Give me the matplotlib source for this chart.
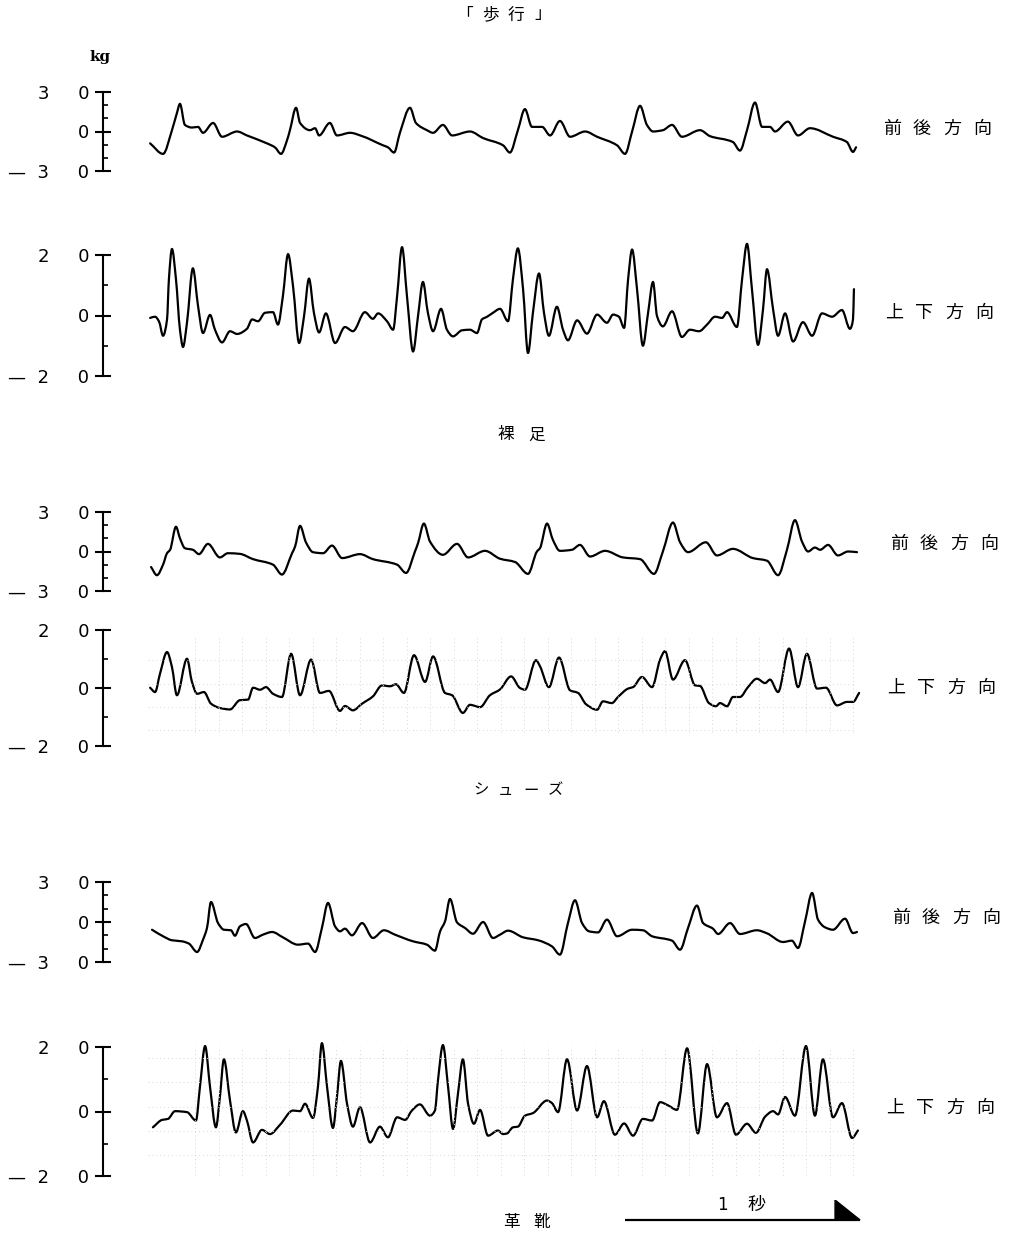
import numpy as np
import matplotlib
matplotlib.use("Agg")
import matplotlib.pyplot as plt
from matplotlib.ticker import FixedLocator, FixedFormatter
from matplotlib.patches import Polygon, PathPatch
from matplotlib.path import Path

plt.rcParams['font.family'] = ['DejaVu Sans', 'Noto Sans CJK JP']

# ---------------- data (time in s, force in kg) ----------------
walk_ap_t = [0.009, 0.064, 0.102, 0.123, 0.136, 0.157, 0.187, 0.213, 0.234, 0.277,
             0.315, 0.379, 0.421, 0.506, 0.540, 0.566, 0.591, 0.604, 0.630, 0.647,
             0.689, 0.711, 0.728, 0.774, 0.804, 0.860, 0.911, 1.000, 1.021, 1.047,
             1.072, 1.115, 1.140, 1.187, 1.213, 1.255, 1.294, 1.370, 1.426, 1.511,
             1.540, 1.574, 1.604, 1.634, 1.677, 1.711, 1.753, 1.796, 1.860, 1.911,
             1.996, 2.030, 2.060, 2.094, 2.123, 2.149, 2.191, 2.230, 2.272, 2.349,
             2.391, 2.489, 2.519, 2.549, 2.583, 2.613, 2.647, 2.668, 2.723, 2.766,
             2.817, 2.915, 2.974, 3.000, 3.013]
walk_ap_kg = [-9, -17, 1, 14, 21, 5, 3, 3.5, -1, 6.5,
              -4, 0, -3, -9, -12, -17, -7, 1, 18, 6.5,
              1, 2.5, -3, 6.5, -3, -1, -3.5, -10.5, -12, -16,
              -1, 18, 6.5, 1, -1, 5, -3, 0, -5, -10.5,
              -16, 1, 17, 3.5, 3.5, -3, 8, -4, 0, -4,
              -10.5, -17, 0, 19.5, 5, 0, 1, 5, -4, 1,
              -3.5, -8, -14.5, 1, 22, 3.5, 3.5, 0, 7.5, -3,
              2.5, -4, -8, -15.5, -12]

walk_v_t = [0.009, 0.030, 0.047, 0.064, 0.081, 0.089, 0.102, 0.119, 0.136, 0.149,
            0.166, 0.191, 0.213, 0.234, 0.264, 0.285, 0.315, 0.349, 0.379, 0.421,
            0.443, 0.468, 0.498, 0.532, 0.553, 0.574, 0.596, 0.617, 0.643, 0.664,
            0.685, 0.706, 0.728, 0.757, 0.796, 0.838, 0.872, 0.923, 0.957, 0.979,
            1.017, 1.043, 1.060, 1.081, 1.102, 1.128, 1.149, 1.170, 1.191, 1.213,
            1.247, 1.272, 1.298, 1.336, 1.370, 1.400, 1.421, 1.443, 1.468, 1.498,
            1.532, 1.553, 1.574, 1.596, 1.617, 1.638, 1.664, 1.685, 1.706, 1.740,
            1.766, 1.787, 1.826, 1.868, 1.911, 1.953, 1.979, 2.004, 2.026, 2.043,
            2.060, 2.081, 2.106, 2.128, 2.149, 2.166, 2.191, 2.230, 2.272, 2.306,
            2.345, 2.379, 2.413, 2.443, 2.464, 2.506, 2.528, 2.549, 2.570, 2.596,
            2.617, 2.634, 2.660, 2.681, 2.711, 2.745, 2.787, 2.826, 2.868, 2.911,
            2.953, 2.987, 3.000, 3.004]
walk_v_kg = [-0.8, -0.4, -2, -6.7, -1.3, 12, 22, 12, -4.7, -10.4,
             -2.3, 15.6, 3.1, -5.8, 0.2, -4.7, -8.9, -5.2, -6.1, -4.4,
             -1.3, -1.9, 0.9, 1.1, -3, 6.4, 20.3, 9.8, -9.1, -0.2,
             12.2, 0.9, -5.6, 0.7, -9.1, -3.8, -5.2, 1.1, -1.1, 0.7,
             -1.9, -4.7, 6.4, 22.6, 6.4, -11.9, -0.2, 11.1, 0.9, -5.2,
             2.2, -4.7, -6.9, -4.9, -4.7, -5.8, -1.3, -0.4, 0.9, 2.2,
             -1.9, 12, 22.2, 8.7, -12.4, 0.9, 13.9, 0.9, -6.7, 2.9,
             -4.7, -8.2, -1.6, -6, 0.3, -2.4, 0.3, -0.4, -4.1, 12,
             21.8, 8.7, -10, 0.9, 11.1, -0.2, -3.6, 1.4, -7.1, -4.7,
             -5.2, -3, -0.4, -0.8, 1.1, -3.8, 12, 23.7, 8.7, -9.7,
             2, 15.3, 2, -6.7, 0.7, -8.6, -2.2, -6.7, 0.7, -0.4,
             1.8, -4.4, -1.3, 8.7]

bare_ap_t = [0.013, 0.038, 0.064, 0.081, 0.094, 0.119, 0.136, 0.157, 0.191, 0.217,
             0.255, 0.306, 0.340, 0.391, 0.447, 0.532, 0.570, 0.613, 0.626, 0.647,
             0.672, 0.702, 0.745, 0.783, 0.826, 0.902, 0.957, 1.060, 1.098, 1.136,
             1.149, 1.174, 1.200, 1.255, 1.315, 1.362, 1.434, 1.498, 1.562, 1.617,
             1.655, 1.668, 1.698, 1.723, 1.753, 1.804, 1.838, 1.881, 1.945, 2.021,
             2.094, 2.153, 2.191, 2.234, 2.264, 2.298, 2.374, 2.421, 2.489, 2.574,
             2.634, 2.681, 2.719, 2.753, 2.783, 2.809, 2.838, 2.860, 2.894, 2.936,
             2.979, 3.017]
bare_ap_kg = [-11.8, -18, -10, -1.3, 1.3, 18.8, 10, 2.5, 1.3, -2,
              5.8, -4.5, -1.3, -1.8, -5.8, -10, -17.5, -1.3, 3.8, 19.5,
              7, -0.5, -1.3, 4.5, -5, -2, -5.8, -10, -16.3, 0,
              6.3, 21.2, 7.5, -2.5, 5.8, -4.5, 0.5, -5.5, -8, -17,
              0, 2.5, 21.2, 8.8, 0.5, 1.3, 5, -3.8, 0.5, -4.5,
              -5.8, -17, 0, 22, 7, -0.5, 7, -3, 2, -5,
              -7, -18, 1.3, 23.8, 7.5, 0, 3, 1.3, 5, -3,
              0, -0.5]

bare_v_t = [0.009, 0.030, 0.051, 0.081, 0.102, 0.123, 0.166, 0.187, 0.209, 0.238,
            0.268, 0.306, 0.349, 0.391, 0.426, 0.447, 0.477, 0.502, 0.532, 0.570,
            0.609, 0.647, 0.694, 0.732, 0.770, 0.817, 0.838, 0.872, 0.911, 0.957,
            0.996, 1.030, 1.055, 1.089, 1.132, 1.179, 1.213, 1.264, 1.294, 1.340,
            1.370, 1.413, 1.455, 1.498, 1.545, 1.583, 1.604, 1.651, 1.668, 1.706,
            1.749, 1.796, 1.830, 1.864, 1.911, 1.936, 1.974, 2.000, 2.043, 2.064,
            2.102, 2.145, 2.179, 2.200, 2.234, 2.285, 2.328, 2.349, 2.387, 2.417,
            2.434, 2.464, 2.489, 2.519, 2.553, 2.591, 2.626, 2.647, 2.681, 2.728,
            2.766, 2.804, 2.847, 2.885, 2.932, 2.974, 3.000, 3.026]
bare_v_kg = [0.1, -1.4, 4.9, 12.4, 7.2, -2.5, 10.1, 2.1, -2, -1.4,
             -5.4, -6.9, -7.4, -4.2, -4, 0.1, -0.6, 0.3, -2, -3.1,
             11.8, -2.5, 9.8, -1.7, -1, -7.9, -6.2, -7.7, -5.4, -2.9,
             0.9, 0.6, 1.3, -1.7, 11.3, 2.1, 10.9, -1.7, -2.5, -8.6,
             -5.8, -6.6, -2.5, -0.5, 4, 0, -0.6, 9.6, 7.5, 0.3,
             10.5, -0.8, -1.7, -5.6, -7.5, -4.6, -5.2, -3.1, -0.2, 0.3,
             3.8, 0.3, 9.8, 12.7, 2.9, 9.6, 0.9, 0.7, -5.2, -6.3,
             -5.2, -6.3, -3.1, -3.1, 0.3, 3.2, 1.7, 2.9, -1.4, 13.6,
             0.3, 11.8, -0.2, 0.1, -6, -4.8, -4.8, -1.7]

shoe_ap_t = [0.017, 0.064, 0.102, 0.145, 0.174, 0.209, 0.234, 0.251, 0.268, 0.298,
             0.323, 0.353, 0.370, 0.391, 0.417, 0.455, 0.489, 0.528, 0.574, 0.638,
             0.681, 0.711, 0.740, 0.766, 0.796, 0.817, 0.838, 0.868, 0.911, 0.957,
             1.004, 1.051, 1.128, 1.187, 1.221, 1.243, 1.264, 1.285, 1.315, 1.349,
             1.383, 1.426, 1.468, 1.498, 1.532, 1.596, 1.660, 1.719, 1.753, 1.787,
             1.817, 1.847, 1.877, 1.915, 1.953, 1.996, 2.060, 2.106, 2.145, 2.230,
             2.264, 2.298, 2.336, 2.362, 2.404, 2.426, 2.477, 2.519, 2.591, 2.634,
             2.702, 2.740, 2.766, 2.796, 2.826, 2.851, 2.881, 2.915, 2.966, 3.000,
             3.017]
shoe_ap_kg = [-5.8, -10.7, -13.7, -14.5, -16.2, -22.5, -13.3, -4.5, 15, -0.8,
              -5.8, -6.2, -10.3, -3.3, -1.5, -12, -9.5, -7.5, -11.5, -17,
              -16.2, -22.5, -4.5, 14.3, -3.3, -7, -5, -10, -0.8, -12,
              -6.2, -9.5, -14.5, -17, -21.5, -7, 0.5, 17.3, -0.3, -4.5,
              -8.8, 0, -12, -9.5, -6.5, -11.5, -13.7, -18.3, -24.5, -0.8,
              16.3, -0.8, -7, -7.8, 1.8, -10.7, -5.8, -6.2, -10.7, -14,
              -20.8, -4.5, 12.3, -0.8, -5, -9, -0.8, -9, -6.2, -8.5,
              -15, -14, -19.5, 0.5, 21.8, 1.8, -4, -5.8, 2.5, -8.3,
              -7.5]

shoe_v_t = [0.021, 0.060, 0.085, 0.115, 0.166, 0.204, 0.221, 0.243, 0.264, 0.289,
            0.306, 0.323, 0.349, 0.374, 0.404, 0.421, 0.447, 0.485, 0.519, 0.562,
            0.617, 0.647, 0.668, 0.702, 0.723, 0.740, 0.762, 0.787, 0.804, 0.821,
            0.847, 0.872, 0.902, 0.945, 0.987, 1.021, 1.060, 1.094, 1.123, 1.157,
            1.200, 1.221, 1.234, 1.255, 1.277, 1.298, 1.319, 1.340, 1.362, 1.387,
            1.413, 1.447, 1.489, 1.511, 1.528, 1.553, 1.574, 1.604, 1.638, 1.698,
            1.719, 1.745, 1.783, 1.826, 1.868, 1.911, 1.940, 1.987, 2.026, 2.064,
            2.106, 2.145, 2.179, 2.213, 2.251, 2.294, 2.340, 2.379, 2.421, 2.464,
            2.502, 2.549, 2.587, 2.626, 2.660, 2.681, 2.711, 2.753, 2.800, 2.838,
            2.872, 2.915, 2.953, 2.996, 3.021]
shoe_v_kg = [-4.9, -2.6, -2.3, 0.1, -0.2, -2.8, 7.6, 20.3, 7.6, -4.9,
             4.5, 16.2, 3.4, -6.5, 0.1, -2.8, -9.6, -5.7, -7, -4.1,
             0.3, 0.1, 2.4, -2, 7.6, 21.2, 7.6, -5.1, 4.5, 15.7,
             2.4, -4.7, 1.3, -9.6, -4.7, -8, -1.8, -2.6, 0.3, 2.2,
             -1.3, 0.3, 9.7, 20.6, 7.6, -5.4, 5.5, 16.2, 2.4, -3.8,
             0.5, -7.5, -5.9, -7, -6.8, -4.9, -4.7, -1.3, -0.5, 3.4,
             2.6, -0.2, 16.2, 0.3, 14.1, -1.8, 3.2, -7.2, -3.7, -7.5,
             -2.3, -2.8, 2.9, 1.9, 0.5, 19.6, -6.8, 14.7, -1.8, 2.6,
             -7.2, -3.8, -6.6, -1.6, 0.1, -0.9, 4.5, -1.3, 20.3, -1.3,
             16.2, -1.8, 2.6, -8.2, -5.9]

range_ap = 30
range_v = 20
scale_bar_s = 1.0
scale_bar_start_s = 2.03

# ---------------- figure ----------------
W, H = 1019, 1233
fig = plt.figure(figsize=(W / 100, H / 100), dpi=100)
fig.patch.set_facecolor('white')

T0_PX = 148      # pixel column of t = 0
PX_PER_S = 235   # pixels per second
XMAX = 3.1


def fx(px):
    return px / W


def fy(py):
    return 1 - py / H


def spaced(x0, y, s, pitch, size, **kw):
    for i, ch in enumerate(s):
        fig.text(fx(x0 + i * pitch), fy(y), ch, fontsize=size,
                 family=['Noto Sans CJK JP', 'DejaVu Sans'],
                 ha='left', va='center', **kw)


def smooth_trace(ax, t, kg):
    """Stroke the recorded points as a smooth pen trace (monotone cubic
    Bezier segments through every point)."""
    x = np.asarray(t, float)
    y = np.asarray(kg, float)
    h = np.diff(x)
    d = np.diff(y) / h
    m = np.zeros_like(y)
    for k in range(1, len(y) - 1):
        if d[k - 1] * d[k] > 0:
            w1 = 2 * h[k] + h[k - 1]
            w2 = h[k] + 2 * h[k - 1]
            m[k] = (w1 + w2) / (w1 / d[k - 1] + w2 / d[k])
    m[0], m[-1] = d[0], d[-1]
    verts = [(x[0], y[0])]
    codes = [Path.MOVETO]
    for k in range(len(x) - 1):
        verts += [(x[k] + h[k] / 3, y[k] + m[k] * h[k] / 3),
                  (x[k + 1] - h[k] / 3, y[k + 1] - m[k + 1] * h[k] / 3),
                  (x[k + 1], y[k + 1])]
        codes += [Path.CURVE4] * 3
    ax.add_patch(PathPatch(Path(verts, codes), fill=False, edgecolor='black',
                           lw=1.6, capstyle='round', joinstyle='round',
                           clip_on=False))


def make_panel(t, kg, ymax, top_px, bot_px, minor, grid=None):
    ax = fig.add_axes([fx(T0_PX), fy(bot_px), XMAX * PX_PER_S / W,
                       (bot_px - top_px) / H])
    ax.set_xlim(0, XMAX)
    ax.set_ylim(-ymax, ymax)
    if grid is not None:
        gx, gy, (ylo, yhi) = grid
        ax.vlines(gx, ylo, yhi, colors='#d6d6d6', lw=0.7,
                  linestyles=(0, (1, 3)))
        ax.hlines(gy, 0.0, 3.0, colors='#d6d6d6', lw=0.7,
                  linestyles=(0, (1, 3)))
    smooth_trace(ax, t, kg)
    for s in ('top', 'right', 'bottom'):
        ax.spines[s].set_visible(False)
    ax.spines['left'].set_position(('outward', 45 * 0.72))
    ax.spines['left'].set_bounds(-ymax, ymax)
    ax.spines['left'].set_linewidth(1.5)
    ax.set_xticks([])
    d = str(ymax // 10)
    ax.yaxis.set_major_locator(FixedLocator([-ymax, 0, ymax]))
    ax.yaxis.set_major_formatter(FixedFormatter(
        ['\u2014  ' + d + '     0', '0', d + '     0']))
    ax.yaxis.set_minor_locator(FixedLocator(minor))
    ax.tick_params(axis='y', which='major', direction='inout', length=11,
                   width=1.5, pad=4.5, labelsize=13)
    ax.tick_params(axis='y', which='minor', direction='in', length=3.5,
                   width=1.2)
    ax.patch.set_alpha(0)
    return ax


minor_ap = [-20, -10, 10, 20]
minor_v = [-10, 10]

# faint chart-paper grid (0.1 s spacing) visible in some records
grid_t = np.round(np.arange(0.2, 3.01, 0.1), 2)

make_panel(walk_ap_t, walk_ap_kg, range_ap, 92, 171, minor_ap)
make_panel(walk_v_t, walk_v_kg, range_v, 255, 376, minor_v)
make_panel(bare_ap_t, bare_ap_kg, range_ap, 512, 591, minor_ap)
make_panel(bare_v_t, bare_v_kg, range_v, 630, 746, minor_v,
           grid=(grid_t, [9.5, 1.5, -6.5, -14.5], (-15, 18)))
make_panel(shoe_ap_t, shoe_ap_kg, range_ap, 882, 962, minor_ap)
make_panel(shoe_v_t, shoe_v_kg, range_v, 1047, 1176, minor_v,
           grid=(grid_t, [24, 16.5, 9, 1.5, -6, -13.5, -21], (-21, 25)))

# scale bar axes (1 second)
axb = fig.add_axes([fx(T0_PX), fy(1230), XMAX * PX_PER_S / W, 30 / H])
axb.set_xlim(0, XMAX)
axb.set_ylim(0, 30)
axb.axis('off')
x1 = scale_bar_start_s
x2 = scale_bar_start_s + scale_bar_s
axb.plot([x1, x2], [10, 10], color='black', lw=1.6, solid_capstyle='butt')
axb.add_patch(Polygon([[x2 - 25 / PX_PER_S, 10], [x2 - 25 / PX_PER_S, 30], [x2, 10]],
                      closed=True, color='black'))
fig.text(fx(717), fy(1205), '1', fontsize=12, ha='left', va='center')
fig.text(fx(747), fy(1205), '秒', fontsize=13, ha='left', va='center',
         family=['Noto Sans CJK JP'])

# texts
fig.text(fx(89), fy(57), 'kg', fontsize=11, fontweight='bold',
         family='DejaVu Serif', ha='left', va='center')
spaced(456, 15, '「歩行」', 26, 12)
spaced(498, 435, '裸足', 30, 12)
spaced(473, 790, 'シューズ', 25, 11)
spaced(503, 1222, '革靴', 30, 12)

for x0, y, s in [(883, 129, '前後方向'), (885, 313, '上下方向'),
                 (890, 544, '前後方向'), (887, 688, '上下方向'),
                 (892, 918, '前後方向'), (886, 1108, '上下方向')]:
    spaced(x0, y, s, 30, 13)

fig.savefig('out.png', dpi=100, facecolor='white')
